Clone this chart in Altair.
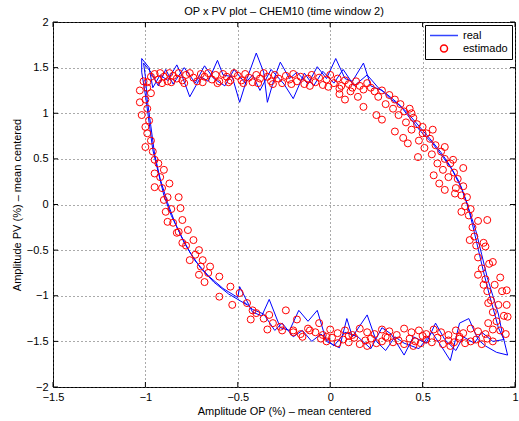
import altair as alt
import pandas as pd

# ---- data ----
x_ticks = [-1.5, -1, -0.5, 0, 0.5, 1]
y_ticks = [-2, -1.5, -1, -0.5, 0, 0.5, 1, 1.5, 2]
series_names = ["real", "estimado"]

real_pass1_x = [-0.45, -0.55, -0.63, -0.70, -0.76, -0.81, -0.86, -0.90, -0.93, -0.96, -0.98, -1.00, -1.02, -1.02,
                -0.98, -0.96, -0.92, -0.88, -0.83, -0.80, -0.76, -0.70, -0.66, -0.61, -0.58, -0.53, -0.49, -0.45, -0.40,
                -0.36, -0.34, -0.30, -0.27, -0.22, -0.18, -0.12, -0.07, -0.02, 0.03, 0.08, 0.12, 0.18, 0.22, 0.28,
                0.33, 0.38, 0.43, 0.49, 0.55, 0.61, 0.66, 0.71, 0.75, 0.79, 0.82, 0.85, 0.88, 0.91, 0.93, 0.96,
                0.90, 0.84, 0.80, 0.75, 0.70, 0.65, 0.60, 0.55, 0.48, 0.40, 0.35, 0.30, 0.25, 0.20, 0.12, 0.09, 0.05,
                -0.02, -0.07, -0.12, -0.17, -0.22, -0.27, -0.33, -0.37, -0.42, -0.49]
real_pass1_y = [-1.10, -0.98, -0.85, -0.70, -0.52, -0.33, -0.12, 0.10, 0.35, 0.60, 0.90, 1.20, 1.45, 1.60,
                1.50, 1.28, 1.42, 1.36, 1.53, 1.40, 1.18, 1.40, 1.35, 1.58, 1.42, 1.40, 1.12, 1.38, 1.66,
                1.45, 1.12, 1.40, 1.56, 1.38, 1.45, 1.32, 1.51, 1.38, 1.60, 1.38, 1.35, 1.55, 1.30, 1.25,
                1.15, 1.08, 0.95, 0.80, 0.68, 0.52, 0.38, 0.18, -0.05, -0.30, -0.55, -0.80, -1.00, -1.20, -1.40, -1.65,
                -1.62, -1.55, -1.48, -1.25, -1.30, -1.71, -1.55, -1.40, -1.58, -1.52, -1.45, -1.60, -1.50, -1.21, -1.45,
                -1.25, -1.57, -1.50, -1.16, -1.28, -1.16, -1.38, -1.35, -1.04, -1.22, -1.18, -0.90]
real_pass2_x = [-0.50, -0.58, -0.66, -0.73, -0.79, -0.84, -0.88, -0.92, -0.95, -0.97, -0.99, -1.00, -1.01,
                -0.97, -0.93, -0.89, -0.85, -0.79, -0.73, -0.68, -0.63, -0.57, -0.52, -0.46, -0.42, -0.38, -0.32,
                -0.25, -0.20, -0.14, -0.09, -0.04, 0.02, 0.07, 0.13, 0.20, 0.26,
                0.30, 0.36, 0.42, 0.48, 0.54, 0.60, 0.65, 0.70, 0.74, 0.77, 0.80, 0.83, 0.86, 0.89, 0.91, 0.94,
                0.88, 0.82, 0.78, 0.72, 0.68, 0.62, 0.57, 0.52, 0.45, 0.40, 0.33, 0.28, 0.22, 0.15, 0.08, 0.02,
                -0.05, -0.10, -0.15, -0.20, -0.26, -0.30, -0.36, -0.42, -0.47]
real_pass2_y = [-1.02, -0.92, -0.78, -0.62, -0.42, -0.20, 0.02, 0.28, 0.55, 0.85, 1.15, 1.40, 1.55,
                1.45, 1.30, 1.48, 1.32, 1.50, 1.33, 1.52, 1.38, 1.30, 1.48, 1.33, 1.42, 1.25, 1.48,
                1.32, 1.16, 1.44, 1.30, 1.46, 1.33, 1.48, 1.30, 1.42, 1.28,
                1.22, 1.12, 1.00, 0.86, 0.72, 0.57, 0.42, 0.24, 0.02, -0.22, -0.48, -0.74, -0.98, -1.20, -1.35, -1.48,
                -1.50, -1.40, -1.52, -1.45, -1.60, -1.48, -1.30, -1.52, -1.45, -1.65, -1.42, -1.35, -1.58, -1.45, -1.40,
                -1.55, -1.42, -1.50, -1.38, -1.45, -1.30, -1.38, -1.20, -1.15, -1.06]

est_top = [(-0.97, 1.40), (-0.95, 1.43), (-0.93, 1.37), (-0.92, 1.44), (-0.90, 1.40), (-0.88, 1.35), (-0.87, 1.44),
           (-0.85, 1.41), (-0.83, 1.38), (-0.82, 1.44), (-0.80, 1.36), (-0.78, 1.42), (-0.76, 1.44), (-0.74, 1.39),
           (-0.72, 1.35), (-0.70, 1.43), (-0.68, 1.40), (-0.66, 1.44), (-0.64, 1.37), (-0.62, 1.42), (-0.60, 1.35),
           (-0.58, 1.43), (-0.56, 1.40), (-0.54, 1.36), (-0.52, 1.44), (-0.50, 1.41), (-0.48, 1.36), (-0.46, 1.43),
           (-0.44, 1.39), (-0.42, 1.34), (-0.40, 1.42), (-0.38, 1.38), (-0.36, 1.44), (-0.34, 1.40), (-0.32, 1.35),
           (-0.30, 1.42), (-0.28, 1.38), (-0.26, 1.33), (-0.24, 1.41), (-0.22, 1.37), (-0.20, 1.43), (-0.18, 1.35),
           (-0.16, 1.40), (-0.14, 1.32), (-0.12, 1.38), (-0.10, 1.42), (-0.08, 1.34), (-0.06, 1.39), (-0.04, 1.31),
           (-0.02, 1.37), (0.00, 1.42), (0.02, 1.33), (0.04, 1.38), (0.06, 1.30), (0.08, 1.36), (0.10, 1.32),
           (0.12, 1.28), (0.14, 1.35), (0.16, 1.30), (0.18, 1.26), (0.20, 1.33), (0.22, 1.28), (0.24, 1.24),
           (-0.91, 1.33), (-0.86, 1.34), (-0.79, 1.33), (-0.69, 1.34), (-0.61, 1.33), (-0.55, 1.34), (-0.47, 1.33),
           (-0.39, 1.33), (-0.31, 1.32), (-0.21, 1.32), (-0.11, 1.30), (-0.01, 1.29), (0.05, 1.27), (0.11, 1.24),
           (0.08, 1.15), (0.18, 1.07), (0.25, 0.98), (0.28, 0.93), (0.15, 1.18), (0.05, 1.21)]

est_right = [(0.26, 1.18), (0.28, 1.25), (0.30, 1.10), (0.32, 1.20), (0.34, 1.05), (0.35, 1.15), (0.37, 0.98),
             (0.38, 1.10), (0.40, 1.02), (0.41, 0.90), (0.43, 1.05), (0.44, 0.82), (0.45, 0.95), (0.47, 0.88),
             (0.48, 0.70), (0.50, 0.85), (0.51, 0.62), (0.52, 0.78), (0.54, 0.72), (0.55, 0.55), (0.57, 0.65),
             (0.58, 0.45), (0.60, 0.58), (0.61, 0.38), (0.62, 0.50), (0.64, 0.30), (0.65, 0.45), (0.67, 0.35),
             (0.68, 0.18), (0.69, 0.28), (0.71, 0.10), (0.72, 0.20), (0.73, -0.02), (0.74, 0.08), (0.75, -0.12),
             (0.76, -0.05), (0.77, -0.25), (0.78, -0.35), (0.79, -0.45), (0.80, -0.18), (0.80, -0.58), (0.82, -0.70),
             (0.83, -0.42), (0.84, -0.82), (0.85, -0.95), (0.86, -0.65), (0.87, -1.05), (0.88, -1.18), (0.89, -0.88),
             (0.90, -1.28), (0.91, -1.10), (0.92, -1.38), (0.93, -0.95), (0.94, -1.22), (0.95, -1.42),
             (0.85, -0.17), (0.84, -0.46), (0.88, -0.63), (0.92, -0.80), (0.955, -0.94), (0.955, -1.10), (0.96, -1.23),
             (0.44, 1.00), (0.50, 0.78), (0.555, 0.82), (0.62, 0.63), (0.665, 0.49), (0.72, 0.40),
             (0.35, 0.80), (0.395, 0.73), (0.475, 0.52), (0.42, 0.67),
             (0.59, 0.23), (0.62, 0.16), (0.56, 0.32), (0.675, 0.12), (0.71, -0.08), (0.755, -0.39), (0.80, -0.77),
             (0.83, -0.88), (0.855, -1.08), (0.855, -1.30)]

est_bottom = [(-0.05, -1.47), (-0.02, -1.50), (0.01, -1.46), (0.04, -1.52), (0.07, -1.48), (0.10, -1.51),
              (0.13, -1.46), (0.16, -1.53), (0.19, -1.49), (0.22, -1.47), (0.25, -1.52), (0.28, -1.50),
              (0.31, -1.46), (0.34, -1.51), (0.37, -1.49), (0.40, -1.53), (0.43, -1.47), (0.46, -1.50),
              (0.49, -1.52), (0.52, -1.48), (0.55, -1.51), (0.58, -1.46), (0.61, -1.53), (0.64, -1.49),
              (0.67, -1.51), (0.70, -1.47), (0.73, -1.52), (0.76, -1.50), (0.79, -1.48), (0.82, -1.53),
              (0.85, -1.47), (0.88, -1.50),
              (-0.20, -1.38), (-0.16, -1.42), (-0.12, -1.36), (-0.08, -1.40), (-0.04, -1.43), (0.00, -1.37),
              (0.04, -1.41), (0.08, -1.38), (0.12, -1.43), (0.16, -1.36), (0.20, -1.40), (0.24, -1.42),
              (0.28, -1.37), (0.32, -1.39), (0.36, -1.43), (0.40, -1.36), (0.44, -1.40), (0.48, -1.38),
              (0.52, -1.42), (0.56, -1.37), (0.60, -1.40), (0.64, -1.43), (0.68, -1.38), (0.72, -1.41),
              (0.76, -1.36), (0.80, -1.39), (0.84, -1.42), (0.88, -1.37),
              (0.10, -1.44), (0.30, -1.45), (0.50, -1.44), (0.70, -1.45), (0.20, -1.55), (0.45, -1.55), (0.65, -1.55)]

est_left = [(-0.76, -0.61), (-0.71, -0.77), (-0.68, -0.85), (-0.60, -0.79), (-0.60, -1.01), (-0.53, -1.10),
            (-0.54, -0.90), (-0.49, -0.97), (-0.45, -1.08), (-0.42, -1.16), (-0.36, -1.25), (-0.31, -1.30),
            (-0.27, -1.34), (-0.24, -1.16), (-0.18, -1.26), (-0.11, -1.38), (-0.06, -1.30), (-0.02, -1.45),
            (-0.40, -1.19), (-0.34, -1.37), (-0.26, -1.38), (-0.20, -1.40), (-0.43, -1.26), (-0.33, -1.21),
            (-0.15, -1.45),
            (-0.66, -0.75), (-0.70, -0.68), (-0.73, -0.55), (-0.78, -0.45), (-0.80, -0.42), (-0.82, -0.30),
            (-0.83, -0.31), (-0.85, -0.20), (-0.88, -0.19), (-0.86, -0.05), (-0.89, -0.08), (-0.88, 0.08),
            (-0.90, 0.05), (-0.91, 0.18), (-0.95, 0.19), (-0.92, 0.30), (-0.95, 0.34), (-0.93, 0.45),
            (-0.95, 0.49), (-0.96, 0.58), (-1.00, 0.63), (-0.97, 0.70), (-0.99, 0.78), (-1.00, 0.85),
            (-0.98, 0.92), (-1.02, 0.98), (-0.99, 1.05), (-1.03, 1.12), (-1.00, 1.15), (-1.03, 1.25),
            (-0.99, 1.28), (-1.01, 1.35), (-0.99, 1.34), (-0.97, 1.22),
            (-0.90, 0.38), (-0.87, 0.23), (-0.82, 0.08), (-0.81, -0.04), (-0.80, -0.17), (-0.77, -0.28),
            (-0.74, -0.39), (-0.71, -0.50), (-0.69, -0.61), (-0.65, -0.68)]

# ---- tables ----
real = pd.DataFrame({"x": real_pass1_x + real_pass2_x, "y": real_pass1_y + real_pass2_y})
real["i"] = range(len(real))
real["series"] = "real"

est = pd.DataFrame(est_top + est_right + est_bottom + est_left, columns=["x", "y"])
est["series"] = "estimado"

xt = pd.DataFrame({"x": x_ticks})
yt = pd.DataFrame({"y": y_ticks})

W, H = 462, 365
FONT = "Liberation Sans"

xscale = alt.Scale(domain=[-1.5, 1], nice=False, zero=False)
yscale = alt.Scale(domain=[-2, 2], nice=False, zero=False)
xaxis = alt.Axis(values=x_ticks, format="~g", title="Amplitude OP (%) – mean centered")
yaxis = alt.Axis(values=y_ticks, format="~g", title="Amplitude PV (%) – mean centered")

X = alt.X("x:Q", scale=xscale, axis=xaxis)
Y = alt.Y("y:Q", scale=yscale, axis=yaxis)

line = alt.Chart(real).mark_line(color="#0000ff", strokeWidth=1).encode(
    x=X, y=Y, order=alt.Order("i:Q"),
)

leg = alt.Legend(title=None)
points = alt.Chart(est).mark_point(filled=False, strokeWidth=1, opacity=1).encode(
    x=X, y=Y,
    color=alt.Color("series:N", scale=alt.Scale(domain=series_names, range=["#3344ff", "#ff0000"]), legend=leg),
    shape=alt.Shape("series:N", scale=alt.Scale(domain=series_names, range=["stroke", "circle"]), legend=leg),
    size=alt.Size("series:N", scale=alt.Scale(domain=series_names, range=[784, 49]), legend=leg),
)

tick_x_bottom = alt.Chart(xt).mark_rule(color="black", strokeWidth=1).encode(
    x=X, y=alt.value(H), y2=alt.value(H - 5))
tick_x_top = alt.Chart(xt).mark_rule(color="black", strokeWidth=1).encode(
    x=X, y=alt.value(0), y2=alt.value(5))
tick_y_left = alt.Chart(yt).mark_rule(color="black", strokeWidth=1).encode(
    y=Y, x=alt.value(0), x2=alt.value(5))
tick_y_right = alt.Chart(yt).mark_rule(color="black", strokeWidth=1).encode(
    y=Y, x=alt.value(W), x2=alt.value(W - 5))

chart = alt.layer(
    line, points, tick_x_bottom, tick_x_top, tick_y_left, tick_y_right
).properties(
    width=W, height=H,
    title=alt.TitleParams("OP x PV plot – CHEM10 (time window 2)", font=FONT, fontSize=11,
                          fontWeight="normal", color="black", offset=-1, anchor="middle"),
    padding={"left": 53, "top": 22, "right": 4, "bottom": 34},
    autosize=alt.AutoSizeParams(type="none"),
).configure_view(
    stroke="black", strokeWidth=1
).configure_axis(
    labelFont=FONT, titleFont=FONT, labelFontSize=11, titleFontSize=11,
    labelColor="black", titleColor="black", titleFontWeight="normal",
    ticks=False, domain=False, grid=True, gridColor="#555555", gridDash=[1, 3], gridWidth=1,
    labelFlush=False, labelOverlap=False,
).configure_axisX(
    labelPadding=4, titlePadding=3
).configure_axisY(
    labelPadding=5, titlePadding=4
).configure_legend(
    orient="top-right", offset=3, strokeColor="black", fillColor="white", padding=4,
    labelFont=FONT, labelFontSize=11, labelColor="black", symbolStrokeWidth=1.5,
    clipHeight=13, rowPadding=0, cornerRadius=0, labelOffset=4,
)

chart.save("out.html", embed_options={"renderer": "svg", "actions": False})
